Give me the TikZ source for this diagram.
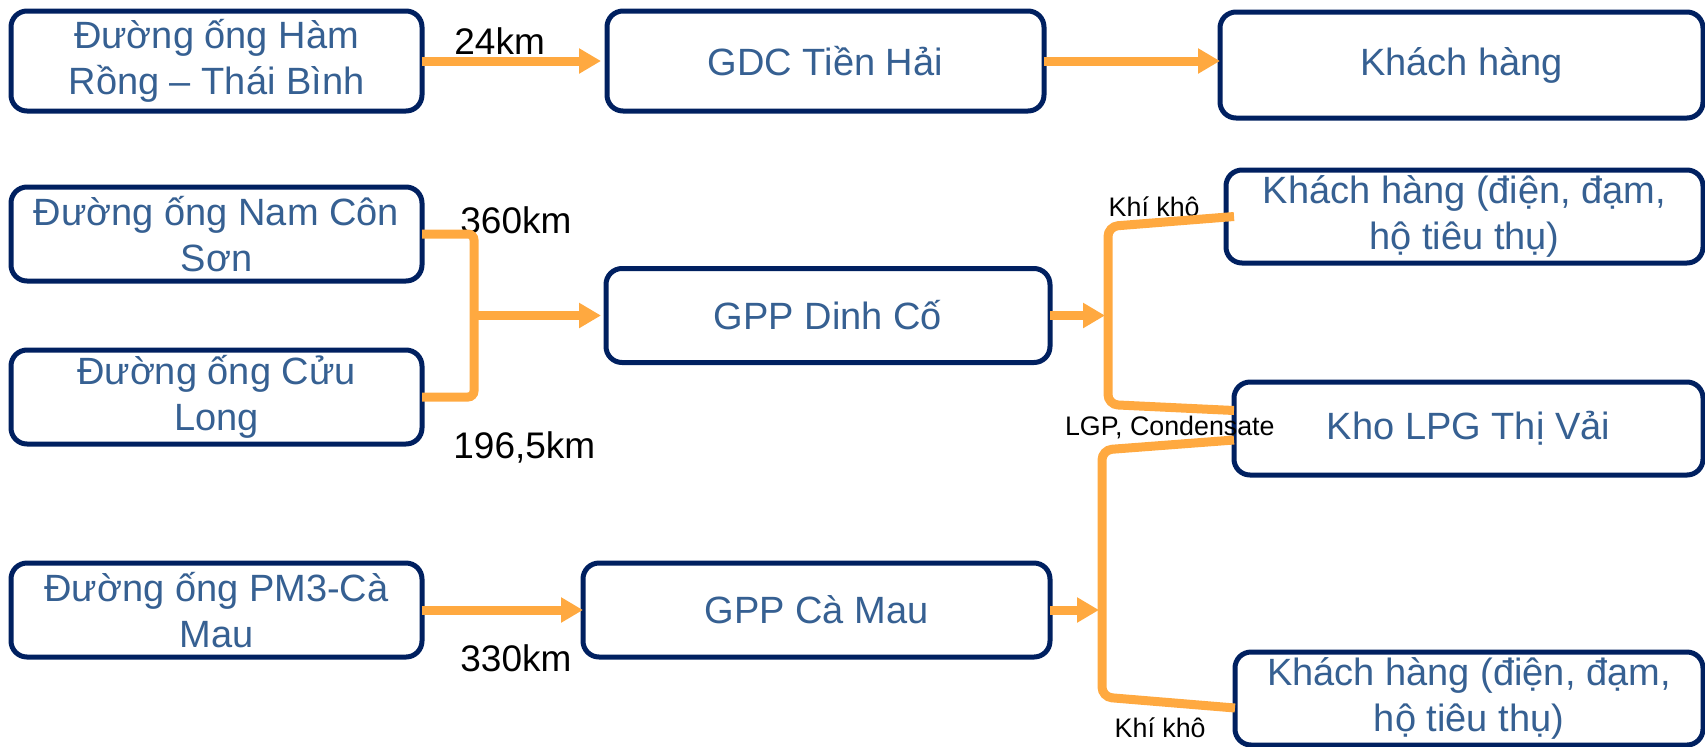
\documentclass[tikz,border=0pt]{standalone}
\usepackage{fontspec}
\setmainfont{Liberation Sans}
\usepackage{tikz}
\usetikzlibrary{arrows.meta, positioning, calc}

\definecolor{boxnavy}{RGB}{0,32,96}
\definecolor{boxtext}{RGB}{54,96,146}
\definecolor{pipeorange}{RGB}{255,169,64}

\begin{document}
\begin{tikzpicture}[
    plant/.style={draw=boxnavy, line width=2.5pt, rounded corners=8pt, fill=white, text=boxtext, align=center, inner sep=2pt, outer sep=0pt, minimum height=47pt, font=\fontsize{19}{23}\selectfont},
    kmlabel/.style={font=\fontsize{18.5}{22}\selectfont, inner sep=0pt},
    gaslabel/.style={font=\fontsize{13.4}{15}\selectfont, inner sep=0pt},
    pipe/.style={draw=pipeorange, line width=4.5pt, rounded corners=5pt},
    arrow/.style={pipeorange, line width=4.5pt, -{Triangle[length=11pt, width=12pt]}}
]
\useasboundingbox (0,0) rectangle (852.5pt,-373pt);

% Ham Rong - Thai Binh pipeline
\node[plant, minimum width=205.5pt, minimum height=50pt] (hamrong) at (108.25pt,-30.5pt) {Đường ống Hàm\\Rồng – Thái Bình};

% GDC Tien Hai
\node[plant, minimum width=218.5pt, minimum height=50pt, right=92.5pt of hamrong] (tienhai) {GDC Tiền Hải};

% Customers (top)
\node[plant, minimum width=241.5pt, minimum height=53pt, right=88pt of tienhai, yshift=-2pt] (khach1) {Khách hàng};

% Nam Con Son pipeline
\node[plant, minimum width=205.5pt, below=38pt of hamrong] (namcon) {Đường ống Nam Côn\\Sơn};

% Cuu Long pipeline
\node[plant, minimum width=205.5pt, below=34.5pt of namcon] (cuulong) {Đường ống Cửu\\Long};

% PM3 - Ca Mau pipeline
\node[plant, minimum width=205.5pt, below=59.5pt of cuulong] (pm3) {Đường ống PM3-Cà\\Mau};

% GPP Dinh Co
\coordinate (mid1) at ($(namcon.east)!0.5!(cuulong.east)$);
\node[plant, minimum width=222pt, right=92pt of mid1] (dinhco) {GPP Dinh Cố};

% GPP Ca Mau
\node[plant, minimum width=233.5pt, right=80.5pt of pm3] (camau) {GPP Cà Mau};

% Customers (middle)
\node[plant, minimum width=238.5pt, minimum height=46.5pt, below=26pt of khach1.south east, anchor=north east] (khach2) {Khách hàng (điện, đạm,\\hộ tiêu thụ)};

% Kho LPG Thi Vai
\node[plant, minimum width=234.5pt, minimum height=46.5pt, below=59.5pt of khach2.south east, anchor=north east] (kho) {Kho LPG Thị Vải};

% Customers (bottom)
\node[plant, minimum width=234pt, minimum height=46.5pt, below=88.5pt of kho.south east, anchor=north east] (khach3) {Khách hàng (điện, đạm,\\hộ tiêu thụ)};

% Distances
\node[kmlabel, right=16pt of hamrong.east, yshift=10pt] (km24) {24km};
\node[kmlabel, right=19pt of namcon.east, yshift=7pt] (km360) {360km};
\node[kmlabel, right=15.5pt of cuulong.south east, yshift=-1.5pt] (km196) {196,5km};
\node[kmlabel, right=19pt of pm3.south east, yshift=-0.5pt] (km330) {330km};

% Products
\node[gaslabel, left=13pt of khach2.west, yshift=4.75pt] (khikho1) {Khí khô};
\node[gaslabel, anchor=east] (lgp) at ($(kho.west)+(20.5pt,0.75pt)$) {LGP, Condensate};
\node[gaslabel, left=14.5pt of khach3.west, yshift=-14.75pt] (khikho2) {Khí khô};

% Connections
\draw[arrow, shorten >=3pt] (hamrong) -- (tienhai);
\draw[arrow] (tienhai) -- (tienhai -| khach1.west);
\draw[arrow] (pm3) -- (camau);

\coordinate (join1) at ($(mid1)+(26pt,0)$);
\draw[pipe, rounded corners=3pt] (namcon.east) -- ++(26pt,0) |- (cuulong.east);
\draw[arrow, shorten >=2.5pt] (join1) -- (dinhco.west);

\coordinate (split1) at ($(dinhco.east)+(29pt,0)$);
\draw[arrow, shorten >=1.5pt] (dinhco) -- (split1);
\draw[pipe] ($(khach2.west)+(4pt,0)$) -- ($(split1)+(0,44.5pt)$) -- ($(split1)+(0,-44.5pt)$) -- ($(kho.west)+(0,9pt)$);

\coordinate (split2) at ($(camau.east)+(26pt,0)$);
\draw[arrow, shorten >=1.5pt] (camau) -- (split2);
\draw[pipe] ($(kho.west)+(0,-5.75pt)$) -- ($(split2)+(0,80pt)$) -- ($(split2)+(0,-43.5pt)$) -- ($(khach3.west)+(0,-4.75pt)$);

\end{tikzpicture}
\end{document}
